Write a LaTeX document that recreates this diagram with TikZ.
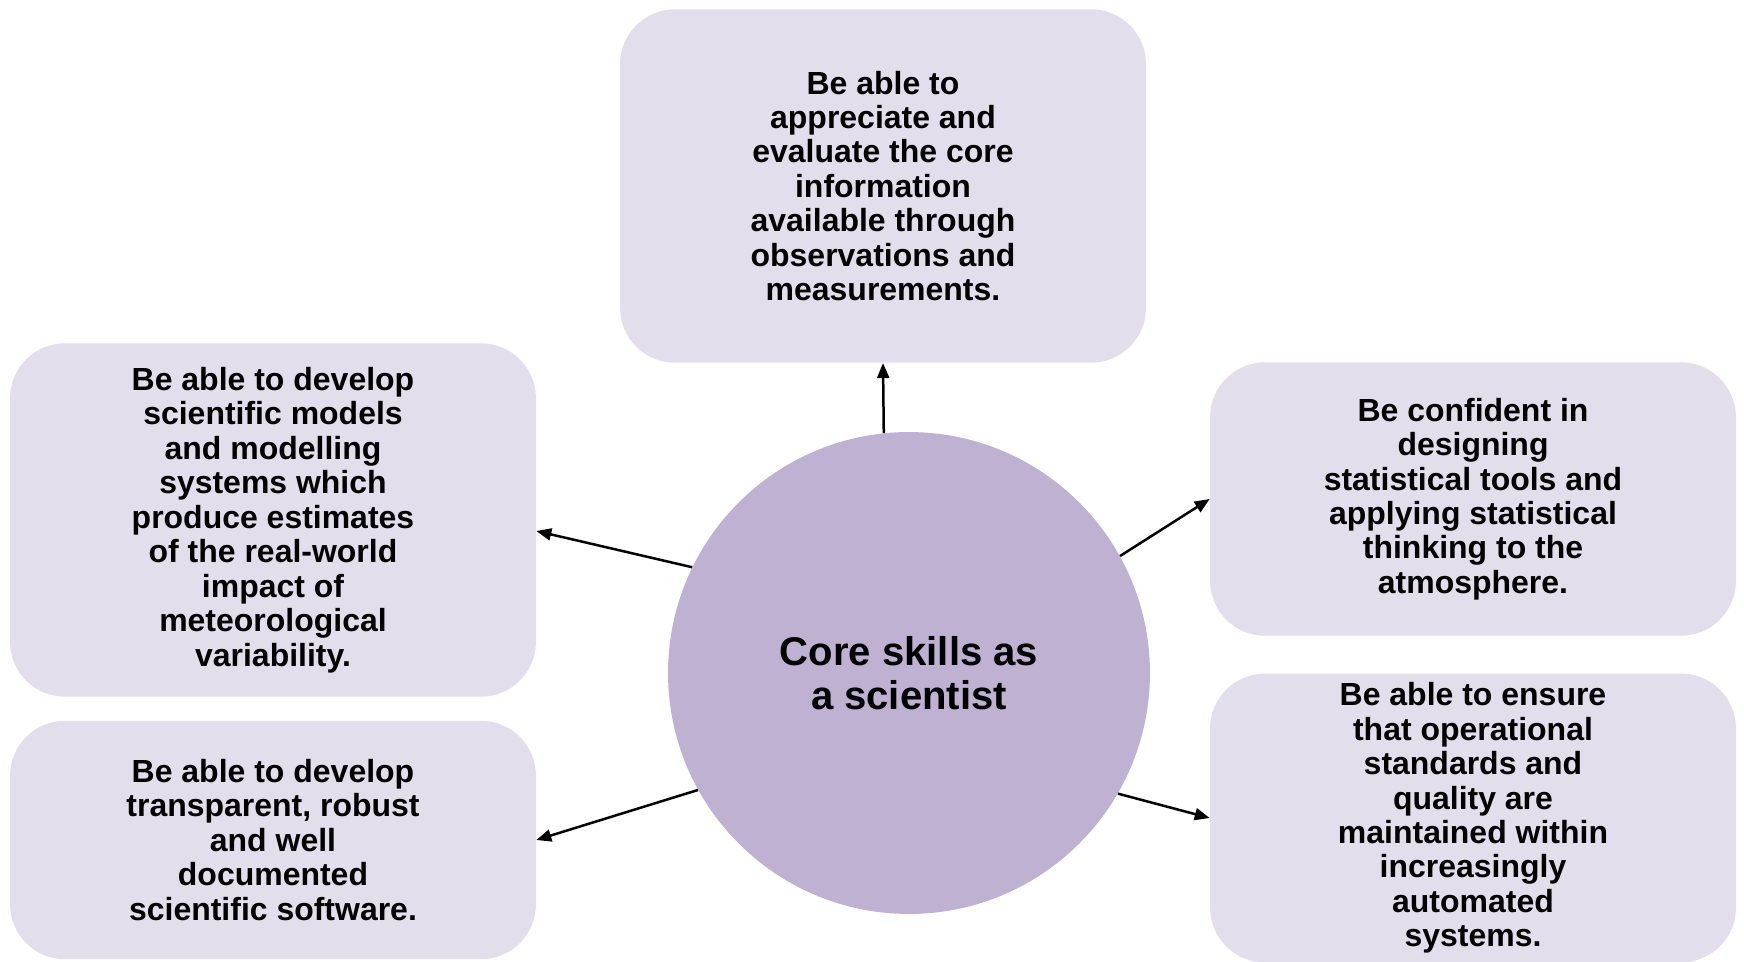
\documentclass[tikz,border=0pt]{standalone}
\usepackage{fontspec}
\setmainfont{Liberation Sans}
\usetikzlibrary{arrows.meta}

\definecolor{boxlilac}{RGB}{227,222,236}
\definecolor{corelilac}{RGB}{190,177,209}

\begin{document}
\begin{tikzpicture}[x=0.02cm,y=-0.02cm,
  skill/.style={fill=boxlilac, rounded corners=1.1cm, minimum width=10.52cm,
    inner sep=0pt, align=center, font=\fontsize{18.2}{19.6}\selectfont\bfseries},
  link/.style={black, line width=0.05cm, -{Triangle[length=0.3cm,width=0.24cm]}}]

\useasboundingbox (0,0) rectangle (1744,962);

% centre
\node[circle, fill=corelilac, minimum size=9.64cm, inner sep=0pt, align=center,
  font=\fontsize{22.8}{24.7}\selectfont\bfseries] (core) at (909,673) {Core skills as\\a scientist};

% skills round it
\node[skill, minimum height=7.07cm] (observe) at (883,186)
  {Be able to\\appreciate and\\evaluate the core\\information\\available through\\observations and\\measurements.};

\node[skill, minimum height=7.07cm] (models) at (273,520)
  {Be able to develop\\scientific models\\and modelling\\systems which\\produce estimates\\of the real-world\\impact of\\meteorological\\variability.};

\node[skill, minimum height=4.77cm] (software) at (273,840)
  {Be able to develop\\transparent, robust\\and well\\documented\\scientific software.};

\node[skill, minimum height=5.47cm] (stats) at (1473,499)
  {Be confident in\\designing\\statistical tools and\\applying statistical\\thinking to the\\atmosphere.};

\node[skill, minimum height=5.78cm] (standards) at (1473,818)
  {Be able to ensure\\that operational\\standards and\\quality are\\maintained within\\increasingly\\automated\\systems.};

\draw[link] (core.96) -- (observe.south);
\draw[link] (core.154.5) -- ([yshift=-0.22cm]models.east);
\draw[link] (core.209.4) -- (software.east);
\draw[link] (core.29.8) -- (stats.west);
\draw[link] (core.330.6) -- (standards.west);

\end{tikzpicture}
\end{document}
